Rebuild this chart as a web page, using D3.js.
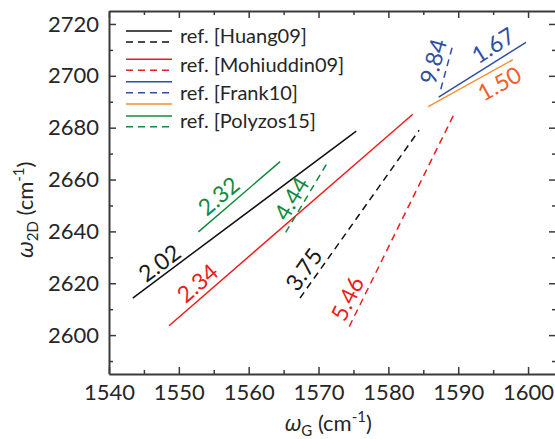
<!DOCTYPE html>
<html><head><meta charset="utf-8">
<script src="https://cdn.jsdelivr.net/npm/d3@7"></script>
<style>
html,body{margin:0;padding:0;background:#fff;}
svg{display:block;}
text{font-family:Lato,"Open Sans",sans-serif;}
</style></head>
<body>
<script>
// ---- data ----
const xTicks = [1540,1550,1560,1570,1580,1590,1600];
const xMinor = [1545,1555,1565,1575,1585,1595];
const yTicks = [2600,2620,2640,2660,2680,2700,2720];
const yMinor = [2590,2610,2630,2650,2670,2690,2710];

const lineRefs   = ["Huang09","Huang09","Mohiuddin09","Mohiuddin09","Frank10","Frank10","Frank10","Polyzos15","Polyzos15"];
const lineX1     = [1543.4, 1567.35, 1548.6, 1574.4, 1587.2, 1587.5, 1585.7, 1552.8, 1565.3];
const lineY1     = [2614.3, 2614.3, 2603.6, 2603.3, 2691.8, 2694.8, 2688.1, 2639.8, 2639.6];
const lineX2     = [1575.4, 1584.4, 1583.5, 1589.45, 1599.7, 1589.3, 1597.8, 1564.5, 1571.4];
const lineY2     = [2678.7, 2679.0, 2685.2, 2685.5, 2712.9, 2712.6, 2706.2, 2666.9, 2667.1];
const slopeLabels= ["2.02","3.75","2.34","5.46","1.67","9.84","1.50","2.32","4.44"];

const legendLabels = ["ref. [Huang09]","ref. [Mohiuddin09]","ref. [Frank10]","ref. [Polyzos15]"];

// ---- styles ----
const lineColors  = ["#111111","#111111","#f01c1c","#f01c1c","#2f4fa3","#2f4fa3","#f7902a","#128a3e","#128a3e"];
const labelColors = ["#1a1a1a","#1a1a1a","#f01c1c","#f01c1c","#2f4fa3","#2f4fa3","#f0602a","#128a3e","#128a3e"];
const lineDashed  = [false,true,false,true,false,true,false,false,true];
const labelT      = [0.152,0.124,0.153,0.102,0.714,0.52,0.76,0.36,0.386];
const labelOff    = [12,13.5,13.5,14,15,14.5,-14.5,14,12.5];
const DASH = "7,5";

const W=555,H=439;
const x = d3.scaleLinear().domain([1540,1604]).range([109,556]);
const y = d3.scaleLinear().domain([2585,2725]).range([374,11]);

const svg = d3.select("body").append("svg").attr("width",W).attr("height",H);
const axisColor="#3a3a3a";

function styleAxis(g){
  g.select(".domain").attr("stroke",axisColor).attr("stroke-width",2);
  g.selectAll(".tick line").attr("stroke",axisColor).attr("stroke-width",1.5);
  g.selectAll("text").attr("fill","#262626").style("font-family","Lato,'Open Sans',sans-serif").style("font-size","22px");
}

// bottom axis
const gB = svg.append("g").attr("transform",`translate(0,${y.range()[0]})`)
  .call(d3.axisBottom(x).tickValues(xTicks).tickFormat(d3.format("d")).tickSizeInner(-7).tickSizeOuter(0).tickPadding(10));
styleAxis(gB);
svg.append("g").attr("transform",`translate(0,${y.range()[0]})`)
  .call(d3.axisBottom(x).tickValues(xMinor).tickFormat("").tickSizeInner(-4).tickSizeOuter(0)).call(styleAxis).select(".domain").remove();
// top axis
svg.append("g").attr("transform",`translate(0,${y.range()[1]})`)
  .call(d3.axisTop(x).tickValues(xTicks).tickFormat("").tickSizeInner(-7).tickSizeOuter(0)).call(styleAxis);
svg.append("g").attr("transform",`translate(0,${y.range()[1]})`)
  .call(d3.axisTop(x).tickValues(xMinor).tickFormat("").tickSizeInner(-4).tickSizeOuter(0)).call(styleAxis).select(".domain").remove();
// left axis
const gL = svg.append("g").attr("transform",`translate(${x.range()[0]},0)`)
  .call(d3.axisLeft(y).tickValues(yTicks).tickFormat(d3.format("d")).tickSizeInner(-7).tickSizeOuter(0).tickPadding(10));
styleAxis(gL);
svg.append("g").attr("transform",`translate(${x.range()[0]},0)`)
  .call(d3.axisLeft(y).tickValues(yMinor).tickFormat("").tickSizeInner(-4).tickSizeOuter(0)).call(styleAxis).select(".domain").remove();
// right axis
svg.append("g").attr("transform",`translate(${x.range()[1]},0)`)
  .call(d3.axisRight(y).tickValues(yTicks).tickFormat("").tickSizeInner(-7).tickSizeOuter(0)).call(styleAxis);
svg.append("g").attr("transform",`translate(${x.range()[1]},0)`)
  .call(d3.axisRight(y).tickValues(yMinor).tickFormat("").tickSizeInner(-4).tickSizeOuter(0)).call(styleAxis).select(".domain").remove();

// lines
const idx = d3.range(lineX1.length);
svg.append("g").selectAll("line").data(idx).join("line")
  .attr("x1",i=>x(lineX1[i])).attr("y1",i=>y(lineY1[i]))
  .attr("x2",i=>x(lineX2[i])).attr("y2",i=>y(lineY2[i]))
  .attr("stroke",i=>lineColors[i]).attr("stroke-width",1.5)
  .attr("stroke-dasharray",i=>lineDashed[i]?DASH:null);

// slope labels
svg.append("g").selectAll("text").data(idx).join("text")
  .attr("transform",i=>{
    const px1=x(lineX1[i]),py1=y(lineY1[i]),px2=x(lineX2[i]),py2=y(lineY2[i]);
    const dx=px2-px1,dy=py2-py1,L=Math.hypot(dx,dy);
    const ux=dx/L,uy=dy/L; const nx=uy,ny=-ux; // normal pointing up-left
    const t=labelT[i],o=labelOff[i];
    const cx=px1+dx*t+nx*o, cy=py1+dy*t+ny*o;
    const ang=Math.atan2(dy,dx)*180/Math.PI;
    return `translate(${cx},${cy}) rotate(${ang})`;
  })
  .attr("text-anchor","middle").attr("dy","0.36em")
  .attr("fill",i=>labelColors[i]).style("font-size","23px")
  .text(i=>slopeLabels[i]);

// legend
const legX1=126,legX2=172,legTextX=180;
const legendRows = [[31,42],[59.3,70.3],[81.7,92.7,104],[116,126.7]];
const legendLineIdx = [[0,1],[2,3],[4,5,6],[7,8]];
const lg = svg.append("g");
legendLabels.forEach((lab,k)=>{
  const rows=legendRows[k];
  rows.forEach((ry,j)=>{
    const li=legendLineIdx[k][j];
    lg.append("line").attr("x1",legX1).attr("x2",legX2).attr("y1",ry).attr("y2",ry)
      .attr("stroke",lineColors[li]).attr("stroke-width",1.5)
      .attr("stroke-dasharray",lineDashed[li]?DASH:null);
  });
  const cy=(rows[0]+rows[rows.length-1])/2;
  lg.append("text").attr("x",legTextX).attr("y",cy).attr("dy","0.34em")
    .attr("fill","#262626").style("font-size","20px").text(lab);
});

// axis titles
const xt = svg.append("text").attr("x",328).attr("y",431).attr("text-anchor","middle")
  .attr("fill","#262626").style("font-size","22px");
xt.append("tspan").style("font-family","'Noto Sans',sans-serif").style("font-style","italic").text("ω");
xt.append("tspan").attr("dy",5).style("font-size","15px").text("G");
xt.append("tspan").attr("dy",-5).text(" (cm");
xt.append("tspan").attr("dy",-9).style("font-size","15px").text("-1");
xt.append("tspan").attr("dy",9).text(")");

const yt = svg.append("text").attr("transform","translate(33,210) rotate(-90)").attr("text-anchor","middle")
  .attr("fill","#262626").style("font-size","22px");
yt.append("tspan").style("font-family","'Noto Sans',sans-serif").style("font-style","italic").text("ω");
yt.append("tspan").attr("dy",5).style("font-size","15px").text("2D");
yt.append("tspan").attr("dy",-5).text(" (cm");
yt.append("tspan").attr("dy",-9).style("font-size","15px").text("-1");
yt.append("tspan").attr("dy",9).text(")");
</script>
</body></html>
